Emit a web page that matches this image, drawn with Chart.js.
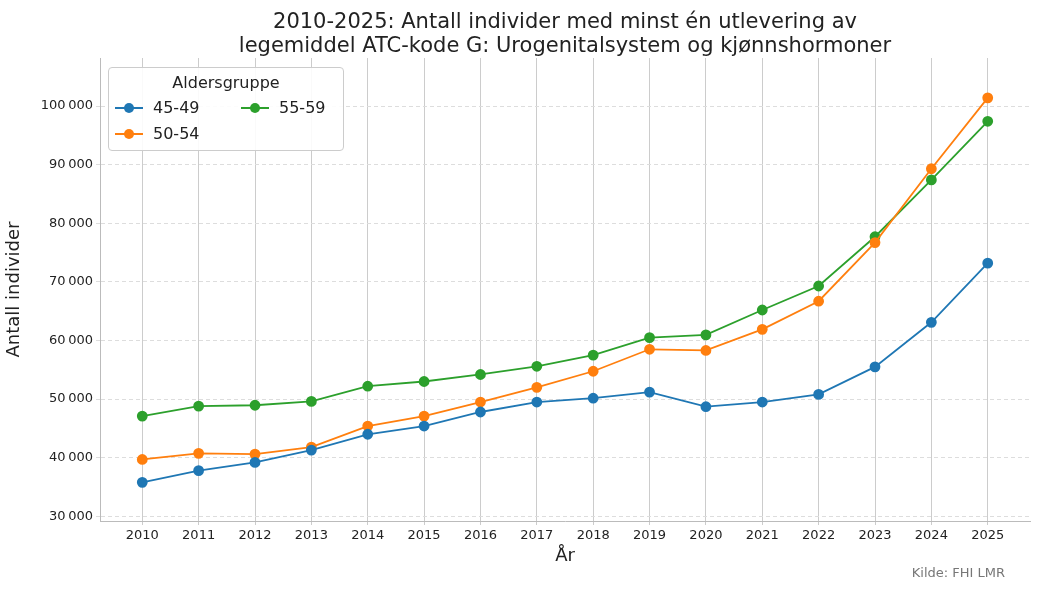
<!DOCTYPE html>
<html>
<head>
<meta charset="utf-8">
<script src="https://cdn.jsdelivr.net/npm/chart.js@4"></script>
<style>
  body { margin: 0; background: #fff; font-family: "DejaVu Sans", sans-serif; }
  #wrap { position: relative; width: 1039px; height: 591px; }
  #title { position: absolute; top: 9px; left: 100px; width: 930px; text-align: center; font-size: 21px; line-height: 24px; color: #222; }
  #legend { position: absolute; left: 108px; top: 67px; width: 234px; height: 82px; border: 1px solid #ccc; border-radius: 4px; background: rgba(255,255,255,0.9); font-size: 16px; color: #222; }
  #legend .t { position: absolute; top: 5px; width: 100%; text-align: center; }
  #legend .it { position: absolute; display: flex; align-items: center; }
  #legend .sw { position: relative; width: 28px; height: 2px; margin-right: 10px; }
  #legend .sw i { position: absolute; left: 9px; top: -4px; width: 10px; height: 10px; border-radius: 50%; }
  #src { position: absolute; right: 34px; top: 565px; font-size: 13px; color: #777; }
</style>
</head>
<body>
<div id="wrap">
  <canvas id="c" width="1039" height="591"></canvas>
  <div id="title">2010-2025: Antall individer med minst én utlevering av<br>legemiddel ATC-kode G: Urogenitalsystem og kjønnshormoner</div>
  <div id="legend"></div>
  <div id="src">Kilde: FHI LMR</div>
</div>
<script>
// Data lest av figuren
const years = [2010, 2011, 2012, 2013, 2014, 2015, 2016, 2017, 2018, 2019, 2020, 2021, 2022, 2023, 2024, 2025];
const grp4549 = [35800, 37800, 39200, 41300, 44000, 45400, 47800, 49500, 50150, 51200, 48700, 49500, 50800, 55500, 63100, 73200];
const grp5054 = [39700, 40750, 40600, 41800, 45400, 47100, 49500, 52000, 54750, 58500, 58300, 61900, 66700, 76700, 89300, 101400];
const grp5559 = [47100, 48800, 48950, 49600, 52200, 53000, 54200, 55600, 57500, 60500, 60950, 65200, 69300, 77700, 87400, 97400];
const groupNames = ['45-49', '50-54', '55-59'];
const colors = ['#1f77b4', '#ff7f0e', '#2ca02c'];

const series = [grp4549, grp5054, grp5559];

// Legende i to kolonner
const legend = document.getElementById('legend');
legend.innerHTML = '<div class="t">Aldersgruppe</div>';
const pos = [[6, 30], [6, 56], [132, 30]];
groupNames.forEach(function(name, i) {
  const d = document.createElement('div');
  d.className = 'it';
  d.style.left = pos[i][0] + 'px';
  d.style.top = pos[i][1] + 'px';
  d.innerHTML = '<span class="sw" style="background:' + colors[i] + '"><i style="background:' + colors[i] + '"></i></span>' + name;
  legend.appendChild(d);
});

function fmt(v) {
  return String(v).replace(/\B(?=(\d{3})+(?!\d))/g, '\u2009');
}

new Chart(document.getElementById('c'), {
  type: 'line',
  data: {
    datasets: series.map(function(s, i) {
      return {
        label: groupNames[i],
        data: years.map((y, k) => ({ x: y, y: s[k] })),
        borderColor: colors[i],
        backgroundColor: colors[i],
        borderWidth: 1.8,
        pointRadius: 4.5,
        pointHoverRadius: 4.5,
        tension: 0
      };
    })
  },
  options: {
    responsive: false,
    animation: false,
    layout: { padding: { top: 58, right: 9, bottom: 20, left: 0 } },
    plugins: { legend: { display: false }, tooltip: { enabled: false } },
    scales: {
      x: {
        type: 'linear', min: 2009.25, max: 2025.75,
        afterBuildTicks: function(axis) { axis.ticks = years.map(y => ({ value: y })); },
        afterFit: function(axis) { axis.height = 50; },
        ticks: { callback: v => String(v), color: '#222', font: { size: 13, family: 'DejaVu Sans' }, maxRotation: 0 },
        grid: { color: '#cccccc', lineWidth: 1, drawTicks: true, tickLength: 4 },
        border: { color: '#bbb' },
        title: { display: true, text: 'År', color: '#222', font: { size: 18, family: 'DejaVu Sans' }, padding: { top: 0 } }
      },
      y: {
        min: 29200, max: 108200,
        afterBuildTicks: function(axis) {
          const t = [];
          for (let v = 30000; v <= 100000; v += 10000) t.push({ value: v });
          axis.ticks = t;
        },
        afterFit: function(axis) { axis.width = 100; },
        ticks: { callback: v => fmt(v), color: '#222', font: { size: 13, family: 'DejaVu Sans' } },
        grid: { color: '#dddddd', lineWidth: 1, tickLength: 4 },
        border: { color: '#bbb', dash: [4, 3] },
        title: { display: true, text: 'Antall individer', color: '#222', font: { size: 18, family: 'DejaVu Sans' } }
      }
    }
  }
});
</script>
</body>
</html>
